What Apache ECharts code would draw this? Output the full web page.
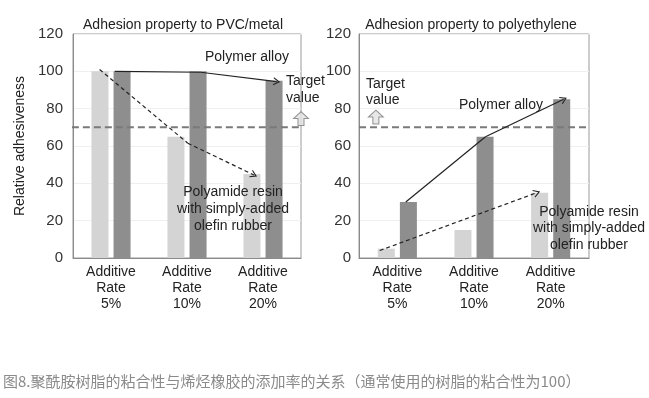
<!DOCTYPE html>
<html>
<head>
<meta charset="utf-8">
<script src="https://cdn.jsdelivr.net/npm/echarts@6/dist/echarts.min.js"></script>
<style>
  html, body { margin: 0; padding: 0; background: #fff; }
  #main { width: 649px; height: 398px; }
</style>
</head>
<body>
<div id="main"></div>
<script>
// data
const categories = ['Additive\nRate\n5%', 'Additive\nRate\n10%', 'Additive\nRate\n20%'];
const yTicks = [0, 20, 40, 60, 80, 100, 120];
const pvcSimple = [100, 65, 45];
const pvcAlloy = [100, 100, 95];
const peSimple = [5, 15, 35];
const peAlloy = [30, 65, 85];
const targetValue = 70;

// annotation arrows, in [category position, value]
const pvcAlloyPath = [[0.05, 100], [1.18, 99.5], [2.18, 94.5]];
const pvcSimplePath = [[-0.15, 101], [1.01, 61.5], [1.88, 44.5]];
const peAlloyPath = [[0.11, 30], [1.15, 65], [2.17, 85]];
const peSimplePath = [[-0.23, 4], [1.82, 35]];

const font = '"Liberation Sans", Arial, sans-serif';
const ink = '#222';
const chevron = 'path://M0,10 L5,0 L10,10 L8.8,10.6 L5,3.2 L1.2,10.6 Z';
const upArrow = 'path://M5,0 L10,5 L7,5 L7,10 L3,10 L3,5 L0,5 Z';

const myChart = echarts.init(document.getElementById('main'));

function catAxis(grid) {
    return {
        type: 'category',
        gridIndex: grid,
        data: categories,
        axisTick: {show: false},
        axisLine: {lineStyle: {color: '#8a8a8a'}},
        axisLabel: {
            color: ink, fontSize: 14, fontFamily: font, lineHeight: 16, margin: 6,
            interval: 0
        }
    };
}

function posAxis(grid) {
    return {type: 'value', gridIndex: grid, min: -0.5, max: 2.5, show: false};
}

function valAxis(grid, margin) {
    return {
        type: 'value',
        gridIndex: grid,
        min: 0, max: 120, interval: 20,
        axisLine: {show: true, onZero: false, lineStyle: {color: '#8a8a8a'}},
        axisTick: {show: false},
        splitLine: {lineStyle: {color: '#efefef'}},
        axisLabel: {
            color: '#333', fontSize: 15, fontFamily: font, margin: margin,
            padding: [7, 0, 0, 0],
            formatter: v => yTicks.indexOf(v) >= 0 ? String(v) : ''
        }
    };
}

function bars(xi, yi, values, color) {
    return {
        type: 'bar', xAxisIndex: xi, yAxisIndex: yi, data: values,
        barWidth: 17, barGap: '30%', itemStyle: {color: color},
        silent: true, animation: false
    };
}

function arrowSeries(xi, yi, path, dashed, curve) {
    const items = [];
    for (let i = 0; i < path.length - 1; i++) {
        const last = i === path.length - 2;
        items.push([
            {coord: path[i]},
            last ? {coord: path[i + 1], symbol: chevron, symbolSize: [8, 7]} : {coord: path[i + 1]}
        ]);
    }
    return {
        type: 'line', xAxisIndex: xi, yAxisIndex: yi, data: [],
        silent: true, animation: false, z: 5,
        itemStyle: {color: ink},
        markLine: {
            silent: true, animation: false,
            symbol: ['none', 'none'],
            label: {show: false},
            lineStyle: {
                color: ink, width: 1.2,
                type: dashed ? [4, 3] : 'solid',
                curveness: curve || 0
            },
            emphasis: {disabled: true},
            data: items
        }
    };
}

function targetSeries(xi, yi, from, to) {
    return {
        type: 'line', xAxisIndex: xi, yAxisIndex: yi, clip: false, silent: true, animation: false,
        data: [[from, targetValue], [to, targetValue]], symbol: 'none', z: 4,
        lineStyle: {color: '#7a7a7a', width: 2, type: [7, 4]}
    };
}

function upSeries(xi, yi, point) {
    return {
        type: 'scatter', xAxisIndex: xi, yAxisIndex: yi, clip: false, silent: true, animation: false,
        data: [point], symbol: upArrow, symbolSize: [15, 14], z: 6,
        itemStyle: {color: '#e2e2e2', borderColor: '#7a7a7a', borderWidth: 1}
    };
}

function note(x, y, text, align, lineHeight) {
    return {
        type: 'text', x: x, y: y, silent: true, z: 100,
        style: {
            text: text, fontSize: 14, fontFamily: font, fill: ink,
            align: align, verticalAlign: 'middle', lineHeight: lineHeight || 17
        }
    };
}

const option = {
    backgroundColor: '#fff',
    title: [
        {text: 'Adhesion property to PVC/metal', left: 178, top: 13, textAlign: 'center',
            textStyle: {fontSize: 14, fontWeight: 'normal', color: ink, fontFamily: font}},
        {text: 'Adhesion property to polyethylene', left: 466, top: 13, textAlign: 'center',
            textStyle: {fontSize: 14, fontWeight: 'normal', color: ink, fontFamily: font}}
    ],
    grid: [
        {left: 73, right: 348, top: 34, bottom: 140, show: true, borderColor: '#999', borderWidth: 1},
        {left: 359, right: 60, top: 34, bottom: 140, show: true, borderColor: '#999', borderWidth: 1}
    ],
    xAxis: [catAxis(0), catAxis(1), posAxis(0), posAxis(1)],
    yAxis: [
        Object.assign(valAxis(0, 10), {
            name: 'Relative adhesiveness', nameLocation: 'middle', nameGap: 46,
            nameTextStyle: {fontSize: 14, color: ink, fontFamily: font}
        }),
        valAxis(1, 8)
    ],
    series: [
        bars(0, 0, pvcSimple, '#d4d4d4'),
        bars(0, 0, pvcAlloy, '#8e8e8e'),
        bars(1, 1, peSimple, '#d4d4d4'),
        bars(1, 1, peAlloy, '#8e8e8e'),
        targetSeries(2, 0, -0.66, 2.5),
        targetSeries(3, 1, -0.5, 2.56),
        arrowSeries(2, 0, pvcAlloyPath, false),
        arrowSeries(2, 0, pvcSimplePath, true),
        arrowSeries(3, 1, peAlloyPath, false),
        arrowSeries(3, 1, peSimplePath, true, -0.1),
        upSeries(2, 0, [2.5, 74.7]),
        upSeries(3, 1, [-0.28, 75.5])
    ],
    graphic: {
        elements: [
            note(247, 57, 'Polymer alloy', 'center'),
            note(286, 90, 'Target\nvalue', 'left', 17),
            note(233, 209, 'Polyamide resin\nwith simply-added\nolefin rubber', 'center', 17),
            note(366, 92.5, 'Target\nvalue', 'left', 16),
            note(501, 105, 'Polymer alloy', 'center'),
            note(589, 228.5, 'Polyamide resin\nwith simply-added\nolefin rubber', 'center', 16.7),
            {type: 'text', x: 3, y: 381.5, silent: true, z: 100,
                style: {text: '图8.聚酰胺树脂的粘合性与烯烃橡胶的添加率的关系（通常使用的树脂的粘合性为100）',
                    fontSize: 15, fontFamily: '"Noto Sans CJK SC", sans-serif', fill: '#8a8a8a',
                    verticalAlign: 'middle'}}
        ]
    }
};

myChart.setOption(option);
</script>
</body>
</html>
